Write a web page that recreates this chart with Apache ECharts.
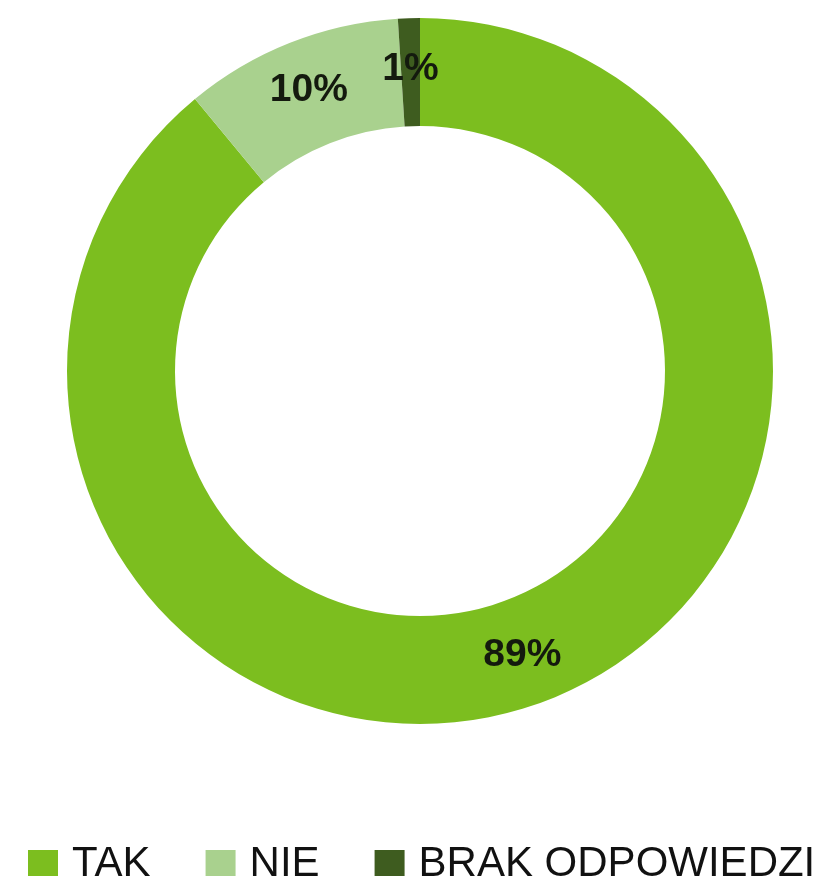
<!DOCTYPE html>
<html>
<head>
<meta charset="utf-8">
<style>
  html, body { margin: 0; padding: 0; background: #ffffff; }
  #chart { width: 831px; height: 876px; }
</style>
<script src="https://cdn.jsdelivr.net/npm/echarts@6/dist/echarts.min.js"></script>
</head>
<body>
<div id="chart"></div>
<script>
// Answer categories and their shares (percent)
const categories = ['TAK', 'NIE', 'BRAK ODPOWIEDZI'];
const shares = [89, 10, 1];
const colors = ['#7cbe1f', '#a9d18e', '#3e5c1f'];

const chart = echarts.init(document.getElementById('chart'), null, { renderer: 'canvas' });

chart.setOption({
  backgroundColor: '#ffffff',
  animation: false,
  color: colors,
  legend: {
    data: categories,
    left: 28,
    top: 843,
    width: 803,
    padding: 0,
    icon: 'rect',
    itemWidth: 30,
    itemHeight: 28,
    itemGap: 55,
    textStyle: {
      fontFamily: 'Liberation Sans, Arial, sans-serif',
      fontSize: 42,
      color: '#111111',
      padding: [0, 0, 0, 9]
    }
  },
  series: [{
    type: 'pie',
    center: [420, 371],
    radius: [245, 353],
    startAngle: 90,
    clockwise: true,
    avoidLabelOverlap: false,
    label: {
      show: true,
      position: 'inside',
      formatter: '{c}%',
      fontFamily: 'Liberation Sans, Arial, sans-serif',
      fontWeight: 'bold',
      fontSize: 39,
      color: '#141a0e'
    },
    labelLine: { show: false },
    emphasis: { disabled: true },
    data: categories.map((name, i) => ({ name: name, value: shares[i] }))
  }]
});
</script>
</body>
</html>
